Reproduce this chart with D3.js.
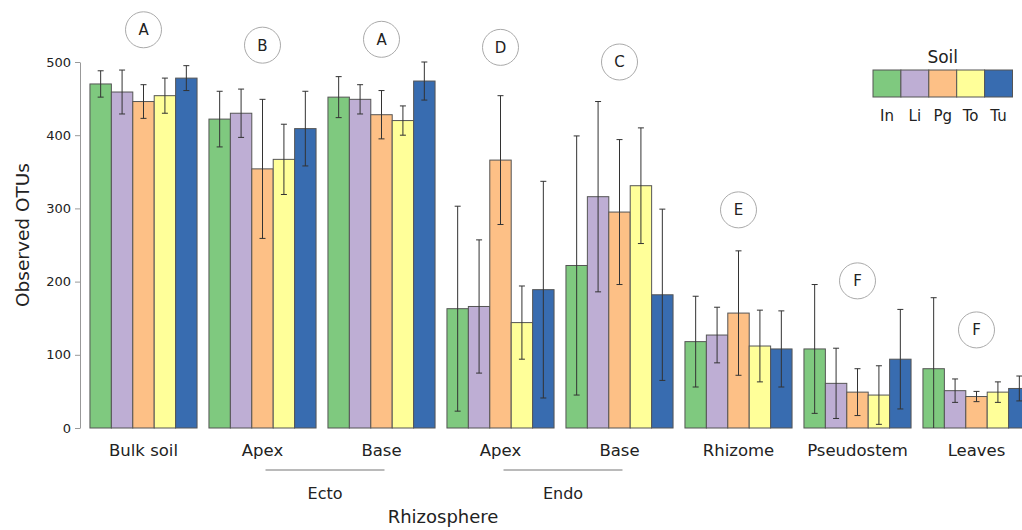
<!DOCTYPE html>
<html>
<head>
<meta charset="utf-8">
<script src="https://cdn.jsdelivr.net/npm/d3@7"></script>
<style>
  body { margin: 0; background: #fff; }
  text { font-family: "DejaVu Sans", Verdana, sans-serif; fill: #222; }
</style>
</head>
<body>
<div id="chart"></div>
<script>
var svgWidth = 1022;
var svgHeight = 530;

var groups = ["Bulk soil", "Ecto Apex", "Ecto Base", "Endo Apex", "Endo Base", "Rhizome", "Pseudostem", "Leaves"];
var groupLabels = ["Bulk soil", "Apex", "Base", "Apex", "Base", "Rhizome", "Pseudostem", "Leaves"];
var soils = ["In", "Li", "Pg", "To", "Tu"];
var colors = ["#7fc97f", "#beaed4", "#fdc086", "#ffff99", "#386cb0"];

// mean observed OTUs, one row per group, columns follow soils
var means = [
    [470, 459, 446, 454, 478],
    [422, 430, 354, 367, 409],
    [452, 449, 428, 420, 474],
    [163, 166, 366, 144, 189],
    [222, 316, 295, 331, 182],
    [118, 127, 157, 112, 108],
    [108, 61, 49, 45, 94],
    [81, 51, 43, 49, 54]
];
// standard deviations (error bars)
var sds = [
    [18, 30, 23, 24, 17],
    [38, 33, 95, 48, 51],
    [28, 20, 33, 20, 26],
    [140, 91, 88, 50, 148],
    [177, 130, 99, 79, 117],
    [62, 38, 85, 49, 52],
    [88, 48, 32, 40, 68],
    [97, 16, 7, 14, 17]
];
// significance letters and the height (in OTUs) where their circle sits
var letters = ["A", "B", "A", "D", "C", "E", "F", "F"];
var letterAt = [544, 523, 531, 520, 500, 298, 201, 134];
var yTicks = [0, 100, 200, 300, 400, 500];

var svg = d3.select("#chart").append("svg")
            .attr("width", svgWidth)
            .attr("height", svgHeight);

var xScale = d3.scaleBand()
               .domain(groups)
               .range([84, 1036])
               .paddingInner(0.1)
               .paddingOuter(0.05);

var xInner = d3.scaleBand()
               .domain(soils)
               .range([0, xScale.bandwidth()]);

var yScale = d3.scaleLinear()
               .domain([0, 500])
               .range([428, 62]);

var color = d3.scaleOrdinal().domain(soils).range(colors);

// y axis
var leftAxis = d3.axisLeft(yScale).tickValues(yTicks).tickSize(5).tickSizeOuter(0).tickPadding(4);
var yAxis = svg.append("g")
               .attr("transform", "translate(80,0)")
               .call(leftAxis);
yAxis.selectAll("path, line").attr("stroke", "#999");
yAxis.selectAll("text").style("font-size", "13px").attr("fill", "#222")
     .style("font-family", '"DejaVu Sans", Verdana, sans-serif');

svg.append("text")
   .attr("transform", "rotate(-90)")
   .attr("x", -235)
   .attr("y", 29)
   .attr("text-anchor", "middle")
   .style("font-size", "18.5px")
   .text("Observed OTUs");

// bars
var rows = [];
groups.forEach((g, gi) => {
    soils.forEach((s, si) => {
        rows.push({group: g, soil: s, mean: means[gi][si], sd: sds[gi][si]});
    });
});

var gGroups = svg.append("g");

gGroups.selectAll("rect").data(rows).enter().append("rect")
       .attr("x", d => xScale(d.group) + xInner(d.soil))
       .attr("y", d => yScale(d.mean))
       .attr("width", xInner.bandwidth())
       .attr("height", d => yScale(0) - yScale(d.mean))
       .attr("fill", d => color(d.soil))
       .attr("stroke", "#555")
       .attr("stroke-width", 1);

var cap = 3;
var errs = gGroups.selectAll("g.err").data(rows).enter().append("g").attr("class", "err")
                  .attr("stroke", "#333").attr("stroke-width", 1);
errs.append("line")
    .attr("x1", d => xScale(d.group) + xInner(d.soil) + xInner.bandwidth() / 2)
    .attr("x2", d => xScale(d.group) + xInner(d.soil) + xInner.bandwidth() / 2)
    .attr("y1", d => yScale(d.mean + d.sd))
    .attr("y2", d => yScale(Math.max(0, d.mean - d.sd)));
errs.append("line")
    .attr("x1", d => xScale(d.group) + xInner(d.soil) + xInner.bandwidth() / 2 - cap)
    .attr("x2", d => xScale(d.group) + xInner(d.soil) + xInner.bandwidth() / 2 + cap)
    .attr("y1", d => yScale(d.mean + d.sd))
    .attr("y2", d => yScale(d.mean + d.sd));
errs.filter(d => d.mean - d.sd > 0).append("line")
    .attr("x1", d => xScale(d.group) + xInner(d.soil) + xInner.bandwidth() / 2 - cap)
    .attr("x2", d => xScale(d.group) + xInner(d.soil) + xInner.bandwidth() / 2 + cap)
    .attr("y1", d => yScale(d.mean - d.sd))
    .attr("y2", d => yScale(d.mean - d.sd));

// letter circles
var circ = svg.selectAll("g.letter").data(groups).enter().append("g").attr("class", "letter")
              .attr("transform", (d, i) => `translate(${xScale(d) + xScale.bandwidth() / 2}, ${yScale(letterAt[i])})`);
circ.append("circle").attr("r", 18).attr("fill", "#fff").attr("stroke", "#aaa").attr("stroke-width", 1);
circ.append("text").attr("text-anchor", "middle").attr("dy", "0.36em")
    .style("font-size", "15px").text((d, i) => letters[i]);

// x labels
svg.selectAll("text.xlab").data(groups).enter().append("text").attr("class", "xlab")
   .attr("x", d => xScale(d) + xScale.bandwidth() / 2)
   .attr("y", 456)
   .attr("text-anchor", "middle")
   .style("font-size", "16.5px")
   .text((d, i) => groupLabels[i]);

function mid(g) { return xScale(g) + xScale.bandwidth() / 2; }

[["Ecto Apex", "Ecto Base", "Ecto"], ["Endo Apex", "Endo Base", "Endo"]].forEach(p => {
    svg.append("line")
       .attr("x1", mid(p[0]) + 3).attr("x2", mid(p[1]) + 3)
       .attr("y1", 470).attr("y2", 470)
       .attr("stroke", "#777").attr("stroke-width", 1.2);
    svg.append("text")
       .attr("x", (mid(p[0]) + mid(p[1])) / 2 + 3)
       .attr("y", 499)
       .attr("text-anchor", "middle")
       .style("font-size", "16px")
       .text(p[2]);
});

svg.append("text")
   .attr("x", (mid("Ecto Apex") + mid("Endo Base")) / 2 + 2)
   .attr("y", 523)
   .attr("text-anchor", "middle")
   .style("font-size", "18px")
   .text("Rhizosphere");

// legend
var legX = 873, legY = 70, swW = 27.9, swH = 27;
svg.append("text").attr("x", legX + swW * 2.5).attr("y", 63)
   .attr("text-anchor", "middle").style("font-size", "17px").text("Soil");
var leg = svg.selectAll("g.leg").data(soils).enter().append("g").attr("class", "leg");
leg.append("rect")
   .attr("x", (d, i) => legX + i * swW).attr("y", legY)
   .attr("width", swW).attr("height", swH)
   .attr("fill", d => color(d)).attr("stroke", "#555");
leg.append("text")
   .attr("x", (d, i) => legX + i * swW + swW / 2).attr("y", 121)
   .attr("text-anchor", "middle").style("font-size", "15px").text(d => d);
</script>
</body>
</html>
